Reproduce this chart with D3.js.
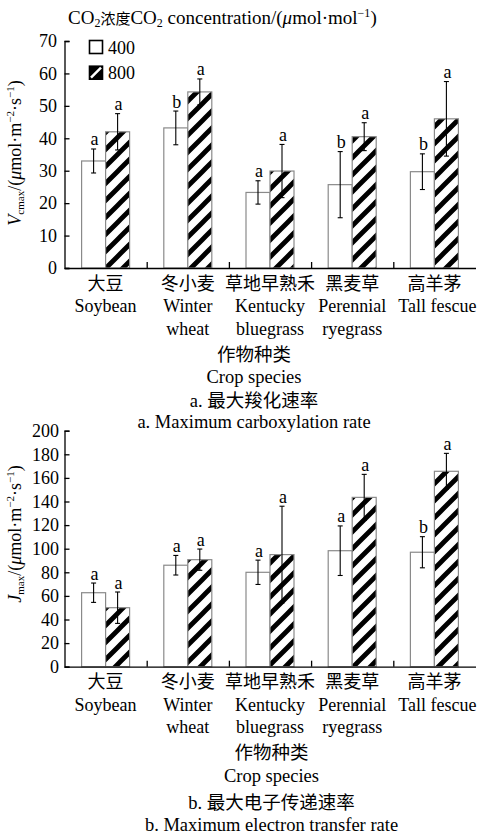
<!DOCTYPE html>
<html>
<head>
<meta charset="utf-8">
<script src="https://cdn.jsdelivr.net/npm/d3@7"></script>
<style>
html,body{margin:0;padding:0;background:#fff;}
svg{display:block;}
text{font-family:"Liberation Serif","Times New Roman","Noto Sans CJK SC",serif;fill:#000;}
</style>
</head>
<body>
<svg id="chart" width="480" height="837"></svg>
<script>
// ---------------- data ----------------
const categoriesZh = ["大豆", "冬小麦", "草地早熟禾", "黑麦草", "高羊茅"];
const categoriesEn = [["Soybean"], ["Winter", "wheat"], ["Kentucky", "bluegrass"], ["Perennial", "ryegrass"], ["Tall fescue"]];
const seriesNames = ["400", "800"];

const vcmax400 = [33.0, 43.2, 23.3, 25.7, 29.7];
const vcmax400Err = [3.7, 5.2, 3.6, 10.2, 5.5];
const vcmax400Sig = ["a", "b", "a", "b", "b"];
const vcmax800 = [42.0, 54.3, 29.9, 40.5, 46.0];
const vcmax800Err = [5.6, 4.0, 8.2, 4.3, 11.5];
const vcmax800Sig = ["a", "a", "a", "a", "a"];
const vcmaxTicks = [0, 10, 20, 30, 40, 50, 60, 70];

const jmax400 = [62.7, 86.0, 80.0, 98.3, 97.0];
const jmax400Err = [8.2, 8.3, 10.3, 21.0, 13.2];
const jmax400Sig = ["a", "a", "a", "a", "b"];
const jmax800 = [50.0, 90.7, 95.0, 143.5, 165.6];
const jmax800Err = [13.3, 9.0, 41.0, 19.5, 15.2];
const jmax800Sig = ["a", "a", "a", "a", "a"];
const jmaxTicks = [0, 20, 40, 60, 80, 100, 120, 140, 160, 180, 200];

// ---------------- drawing ----------------
const svg = d3.select("#chart");
const defs = svg.append("defs");
const pat = defs.append("pattern")
  .attr("id", "hatch").attr("patternUnits", "userSpaceOnUse")
  .attr("width", 17).attr("height", 17);
pat.append("rect").attr("width", 17).attr("height", 17).attr("fill", "#fff");
pat.append("path")
  .attr("d", "M-4,4 L4,-4 M0,17 L17,0 M13,21 L21,13")
  .attr("stroke", "#000").attr("stroke-width", 4.8);

const FS = 18;
const xLeft = 64.5, xRight = 475.5, barW = 24;

function panel(opt) {
  const g = svg.append("g");
  const x = d3.scaleBand().domain(categoriesZh).range([xLeft, xRight]).padding(0);
  const y = d3.scaleLinear().domain(opt.domain).range([opt.y0, opt.y1]);
  const xb = d3.scaleLinear().domain([0, categoriesZh.length]).range([xLeft, xRight]);

  const data = categoriesZh.map((c, i) => ({
    c, i,
    v: [opt.s400[i], opt.s800[i]],
    e: [opt.e400[i], opt.e800[i]],
    s: [opt.g400[i], opt.g800[i]]
  }));
  const cg = g.selectAll(".cat").data(data).join("g").attr("class", "cat");
  seriesNames.forEach((sn, k) => {
    const bx = d => x(d.c) + x.bandwidth() / 2 - barW + k * barW;
    cg.append("rect")
      .attr("x", bx).attr("y", d => y(d.v[k]))
      .attr("width", barW).attr("height", d => y(0) - y(d.v[k]))
      .attr("fill", k === 0 ? "#fff" : "url(#hatch)")
      .attr("stroke", "#8a8a8a").attr("stroke-width", 1.2);
    const cx = d => bx(d) + barW / 2;
    cg.append("line")
      .attr("x1", cx).attr("x2", cx)
      .attr("y1", d => y(d.v[k] + d.e[k])).attr("y2", d => y(d.v[k] - d.e[k]))
      .attr("stroke", "#000").attr("stroke-width", 1.1);
    [1, -1].forEach(sg => {
      cg.append("line")
        .attr("x1", d => cx(d) - 2.5).attr("x2", d => cx(d) + 2.5)
        .attr("y1", d => y(d.v[k] + sg * d.e[k])).attr("y2", d => y(d.v[k] + sg * d.e[k]))
        .attr("stroke", "#000").attr("stroke-width", 1.1);
    });
    cg.append("text")
      .attr("x", d => cx(d) + 1).attr("y", d => y(d.v[k] + d.e[k]) - 3.5)
      .attr("text-anchor", "middle").attr("font-size", FS)
      .text(d => d.s[k]);
  });

  const ya = g.append("g").attr("transform", `translate(${xLeft},0)`)
    .call(d3.axisLeft(y).tickValues(opt.ticks).tickSizeInner(-5).tickSizeOuter(-5).tickPadding(opt.tickPad));
  ya.selectAll("path,line").attr("stroke", "#000").attr("stroke-width", 1.3);
  ya.selectAll("text").attr("font-size", FS).attr("font-family", '"Liberation Serif",serif');

  const xa = g.append("g").attr("transform", `translate(0,${opt.y0})`)
    .call(d3.axisBottom(xb).tickValues([1, 2, 3, 4]).tickSizeInner(-6).tickSizeOuter(0).tickFormat(""));
  xa.selectAll("path,line").attr("stroke", "#000").attr("stroke-width", 1.3);

  const lab = g.append("g");
  lab.selectAll(".zh").data(categoriesZh).join("text")
    .attr("x", d => x(d) + x.bandwidth() / 2).attr("y", opt.y0 + 21.5)
    .attr("text-anchor", "middle").attr("font-size", FS).text(d => d);
  categoriesEn.forEach((lines, i) => {
    lines.forEach((ln, j) => {
      lab.append("text")
        .attr("x", x(categoriesZh[i]) + x.bandwidth() / 2 + (i === 4 ? 3 : 0))
        .attr("y", opt.y0 + 44 + j * 22.5)
        .attr("text-anchor", "middle").attr("font-size", FS).text(ln);
    });
  });

  const capX = opt.capX;
  [["作物种类", opt.cap[0]], ["Crop species", opt.cap[1]], [opt.capZh, opt.cap[2]], [opt.capEn, opt.cap[3]]]
    .forEach(([t, yy]) => {
      g.append("text").attr("x", capX).attr("y", yy)
        .attr("text-anchor", "middle").attr("font-size", FS + 0.5).text(t);
    });

  const yl = g.append("text")
    .attr("transform", `translate(21,${opt.ylabY}) rotate(-90)`)
    .attr("text-anchor", "middle").attr("font-size", FS);
  yl.append("tspan").attr("font-style", "italic").text(opt.ySym);
  yl.append("tspan").attr("font-size", 11).attr("dy", 3).text(opt.ySub);
  yl.append("tspan").attr("dy", -3).text("/(");
  yl.append("tspan").attr("font-style", "italic").text("μ");
  yl.append("tspan").text("mol·m");
  yl.append("tspan").attr("font-size", 11).attr("dy", -7).text("−2");
  yl.append("tspan").attr("dy", 7).text("·s");
  yl.append("tspan").attr("font-size", 11).attr("dy", -7).text("−1");
  yl.append("tspan").attr("dy", 7).text(")");
  return g;
}

panel({
  domain: [0, 70], y0: 268, y1: 41, ticks: vcmaxTicks, tickPad: 7.5,
  s400: vcmax400, e400: vcmax400Err, g400: vcmax400Sig,
  s800: vcmax800, e800: vcmax800Err, g800: vcmax800Sig,
  capX: 254, cap: [361, 383.3, 407, 428.3],
  capZh: "a. 最大羧化速率", capEn: "a. Maximum carboxylation rate",
  ylabY: 153, ySym: "V", ySub: "cmax"
});
panel({
  domain: [0, 200], y0: 666.7, y1: 430.7, ticks: jmaxTicks, tickPad: 5.5,
  s400: jmax400, e400: jmax400Err, g400: jmax400Sig,
  s800: jmax800, e800: jmax800Err, g800: jmax800Sig,
  capX: 271.5, cap: [759, 782.3, 809, 830.7],
  capZh: "b. 最大电子传递速率", capEn: "b. Maximum electron transfer rate",
  ylabY: 534, ySym: "J", ySub: "max"
});

const tt = svg.append("text").attr("x", 68).attr("y", 24).attr("font-size", 19);
tt.append("tspan").text("CO");
tt.append("tspan").attr("font-size", 12).attr("dy", 3).text("2");
tt.append("tspan").attr("dy", -3).attr("font-size", 15).text("浓度");
tt.append("tspan").text("CO");
tt.append("tspan").attr("font-size", 12).attr("dy", 3).text("2");
tt.append("tspan").attr("dy", -3).text(" concentration/(");
tt.append("tspan").attr("font-style", "italic").text("μ");
tt.append("tspan").text("mol·mol");
tt.append("tspan").attr("font-size", 12).attr("dy", -7).text("−1");
tt.append("tspan").attr("dy", 7).text(")");

const lg = svg.append("g");
const legY = [47, 72.7];
seriesNames.forEach((s, k) => {
  if (k === 0) {
    lg.append("rect").attr("x", 89.5).attr("y", legY[k] - 6.5).attr("width", 13).attr("height", 13)
      .attr("fill", "#fff").attr("stroke", "#000").attr("stroke-width", 1.6);
  } else {
    lg.append("rect").attr("x", 89.5).attr("y", legY[k] - 6.5).attr("width", 13).attr("height", 13)
      .attr("fill", "#000").attr("stroke", "#000").attr("stroke-width", 1.6);
    lg.append("path")
      .attr("d", `M${91},${legY[k] + 5} L${101},${legY[k] - 5}`)
      .attr("stroke", "#fff").attr("stroke-width", 2.5);
  }
  lg.append("text").attr("x", 108).attr("y", legY[k] + 6.5).attr("font-size", FS).text(s);
});
</script>
</body>
</html>
